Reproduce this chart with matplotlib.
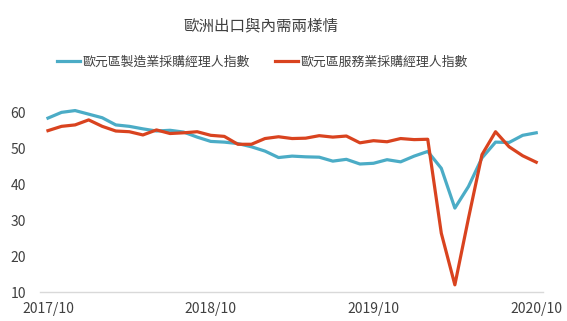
import matplotlib.pyplot as plt
from matplotlib.lines import Line2D

plt.rcParams['font.family'] = ['Noto Sans CJK TC', 'DejaVu Sans']

# Monthly PMI, 2017/10 .. 2020/10
months = ["2017/10", "2017/11", "2017/12", "2018/01", "2018/02", "2018/03", "2018/04",
          "2018/05", "2018/06", "2018/07", "2018/08", "2018/09", "2018/10", "2018/11",
          "2018/12", "2019/01", "2019/02", "2019/03", "2019/04", "2019/05", "2019/06",
          "2019/07", "2019/08", "2019/09", "2019/10", "2019/11", "2019/12", "2020/01",
          "2020/02", "2020/03", "2020/04", "2020/05", "2020/06", "2020/07", "2020/08",
          "2020/09", "2020/10"]
manufacturing = [58.5, 60.1, 60.6, 59.6, 58.6, 56.6, 56.2, 55.5, 54.9, 55.1, 54.6, 53.2,
                 52.0, 51.8, 51.4, 50.5, 49.3, 47.5, 47.9, 47.7, 47.6, 46.5, 47.0, 45.7,
                 45.9, 46.9, 46.3, 47.9, 49.2, 44.5, 33.4, 39.4, 47.4, 51.8, 51.7, 53.7,
                 54.4]
services = [55.0, 56.2, 56.6, 58.0, 56.2, 54.9, 54.7, 53.8, 55.2, 54.2, 54.4, 54.7,
            53.7, 53.4, 51.2, 51.2, 52.8, 53.3, 52.8, 52.9, 53.6, 53.2, 53.5, 51.6,
            52.2, 51.9, 52.8, 52.5, 52.6, 26.4, 12.0, 30.5, 48.3, 54.7, 50.5, 48.0,
            46.2]
tick_labels = ["2017/10", "2018/10", "2019/10", "2020/10"]
yticks = [10, 20, 30, 40, 50, 60]

teal = "#4BACC6"
red = "#D9431F"
name_m = "歐元區製造業採購經理人指數"
name_s = "歐元區服務業採購經理人指數"

fig = plt.figure(figsize=(5.67, 3.21), dpi=100)
ax = fig.add_axes([0.0705, 0.0903, 0.8872, 0.6144])

x = list(range(len(months)))
ax.plot(x, manufacturing, color=teal, linewidth=2.3, clip_on=False)
ax.plot(x, services, color=red, linewidth=2.3, clip_on=False)

ax.set_xlim(-0.59, 36.5)
ax.set_ylim(10, 65)
ax.set_yticks(yticks)
ax.set_xticks([months.index(t) for t in tick_labels])
ax.set_xticklabels(tick_labels)
ax.tick_params(length=0, labelsize=10, colors="#404040")
ax.tick_params(axis='x', pad=7)
ax.tick_params(axis='y', pad=10)

for s in ["top", "right", "left"]:
    ax.spines[s].set_visible(False)
ax.spines["bottom"].set_color("#D9D9D9")
ax.spines["bottom"].set_linewidth(1)

fig.text(0.46, 0.92, "歐洲出口與內需兩樣情", ha="center", va="center",
         fontsize=11.2, color="#404040")

handles = [Line2D([], [], color=teal, linewidth=2.3),
           Line2D([], [], color=red, linewidth=2.3)]
fig.legend(handles, [name_m, name_s], loc="center", bbox_to_anchor=(0.463, 0.807),
           ncol=2, frameon=False, fontsize=9.3, handlelength=1.8, handletextpad=0.2,
           columnspacing=1.9, labelcolor="#404040")

plt.savefig("out.png", dpi=100)
